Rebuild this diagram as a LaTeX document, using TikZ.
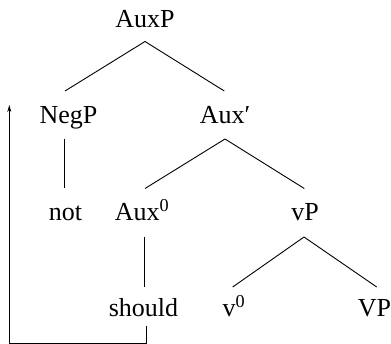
\documentclass[tikz,border=0pt]{standalone}
\usepackage{fontspec}
\setmainfont{Liberation Serif}
\usetikzlibrary{arrows.meta}
\begin{document}
\begin{tikzpicture}[x=1pt,y=-1pt,
  lbl/.style={anchor=base,inner sep=0pt,font=\fontsize{26}{30}\selectfont},
  edge/.style={line width=0.9pt},
  mv/.style={line width=0.9pt,-{Stealth[length=7pt,width=4pt]}}]
\useasboundingbox (0,0) rectangle (391,344);
\node[lbl] (AuxP) at (145,28) {AuxP};
\node[lbl] (NegP) at (68.5,123.5) {NegP};
\node[lbl] (Auxb) at (225,123.5) {Aux′};
\node[lbl] (not) at (65.5,221) {not};
\node[lbl] (Aux0) at (142,221) {Aux\textsuperscript{0}};
\node[lbl] (vP) at (305,221) {vP};
\node[lbl] (should) at (143.5,317) {should};
\node[lbl] (v0) at (234,317) {v\textsuperscript{0}};
\node[lbl] (VP) at (374.5,317) {VP};
\coordinate (tip) at (9.3,105);
\draw[edge] ([yshift=-13.5pt]AuxP.base) -- ([xshift=-3.5pt,yshift=32.5pt]NegP.base);
\draw[edge] ([yshift=-13.5pt]AuxP.base) -- ([xshift=-0.7pt,yshift=32.5pt]Auxb.base);
\draw[edge] ([xshift=-3.8pt,yshift=-15.5pt]NegP.base) -- ([xshift=-0.8pt,yshift=32.5pt]not.base);
\draw[edge] ([yshift=-15.5pt]Auxb.base) -- ([xshift=3pt,yshift=32.5pt]Aux0.base);
\draw[edge] ([yshift=-15.5pt]Auxb.base) -- ([xshift=-0.7pt,yshift=32.5pt]vP.base);
\draw[edge] ([xshift=2.3pt,yshift=-16pt]Aux0.base) -- ([xshift=0.8pt,yshift=30pt]should.base);
\draw[edge] ([xshift=-1pt,yshift=-16pt]vP.base) -- ([xshift=-1.3pt,yshift=30pt]v0.base);
\draw[edge] ([xshift=-1pt,yshift=-16pt]vP.base) -- ([xshift=2.2pt,yshift=30pt]VP.base);
\draw[mv] ([xshift=3.2pt,yshift=-9pt]should.base) -- ++(0,17.3) -| (tip);
\end{tikzpicture}
\end{document}
